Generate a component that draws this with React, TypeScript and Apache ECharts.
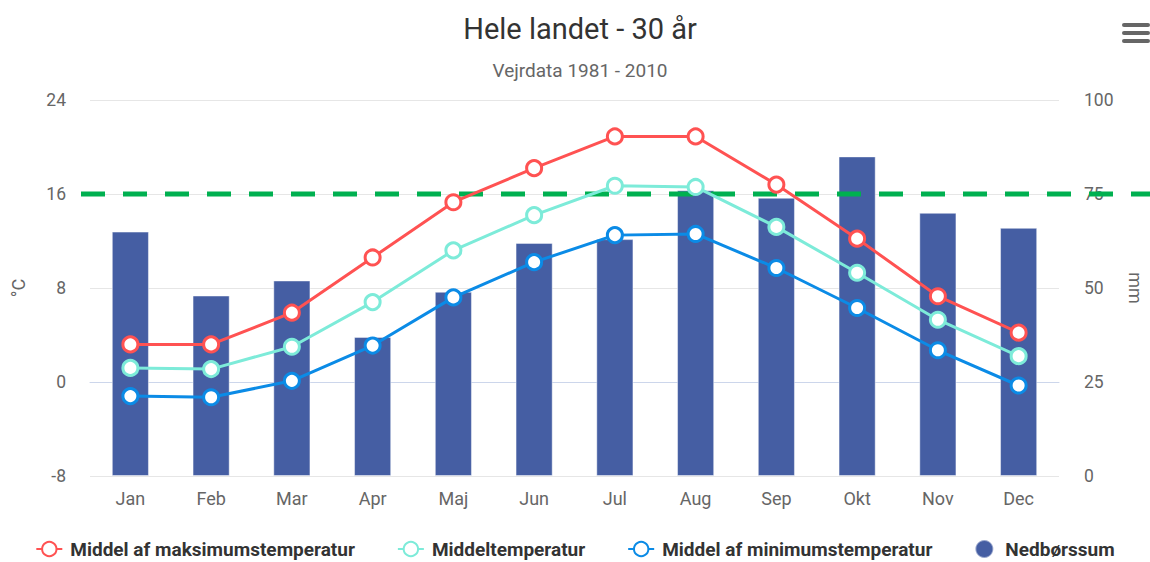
import React, { useEffect, useRef } from "react";
import * as echarts from "echarts";

const chartTitle = "Hele landet - 30 år";
const chartSubtitle = "Vejrdata 1981 - 2010";
const months = ["Jan", "Feb", "Mar", "Apr", "Maj", "Jun", "Jul", "Aug", "Sep", "Okt", "Nov", "Dec"];
const maxTemp = [3.2, 3.2, 5.9, 10.6, 15.3, 18.2, 20.9, 20.9, 16.8, 12.2, 7.3, 4.2];
const meanTemp = [1.2, 1.1, 3.0, 6.8, 11.2, 14.2, 16.7, 16.6, 13.2, 9.3, 5.3, 2.2];
const minTemp = [-1.2, -1.3, 0.1, 3.1, 7.2, 10.2, 12.5, 12.6, 9.7, 6.3, 2.7, -0.3];
const precipitation = [65, 48, 52, 37, 49, 62, 63, 76, 74, 85, 70, 66];
const seriesNames = [
  "Middel af maksimumstemperatur",
  "Middeltemperatur",
  "Middel af minimumstemperatur",
  "Nedbørssum",
];
const tempAxis = { min: -8, max: 24, step: 8, name: "°C" };
const mmAxis = { min: 0, max: 100, step: 25, name: "mm" };
const referenceTemp = 16;

const FONT = "Roboto, 'Noto Sans', sans-serif";
const colors = { max: "#ff5252", mean: "#7debd9", min: "#0b8be6", bar: "#455ea3", ref: "#00b050" };

function lineSeries(name: string, data: number[], color: string) {
  return {
    name,
    type: "line",
    yAxisIndex: 0,
    data,
    z: 4,
    symbol: "circle",
    symbolSize: 15,
    lineStyle: { color, width: 3 },
    itemStyle: { color: "#ffffff", borderColor: color, borderWidth: 3 },
    emphasis: { disabled: true },
  };
}

export default function App() {
  const ref = useRef<HTMLDivElement>(null);
  useEffect(() => {
    if (!ref.current) return;
    const chart = echarts.init(ref.current, undefined, { renderer: "svg" });
    chart.setOption({
      animation: false,
      textStyle: { fontFamily: FONT },
      title: [
        {
          text: chartTitle,
          left: 575,
          top: 9,
          textAlign: "center",
          textStyle: { fontFamily: FONT, fontSize: 29, fontWeight: "normal", color: "#333333" },
        },
        {
          text: chartSubtitle,
          left: 575,
          top: 56,
          textAlign: "center",
          textStyle: { fontFamily: FONT, fontSize: 19, fontWeight: "normal", color: "#666666" },
        },
      ],
      grid: { left: 90, right: 91, top: 100, bottom: 86, containLabel: false, outerBoundsMode: "none" },
      legend: {
        left: "center",
        top: 539,
        padding: 0,
        itemWidth: 26,
        itemHeight: 18,
        itemGap: 42,
        textStyle: {
          fontFamily: FONT,
          fontSize: 19,
          fontWeight: "bold",
          color: "#333333",
          padding: [0, 0, 0, 3],
        },
        data: [
          { name: seriesNames[0] },
          { name: seriesNames[1] },
          { name: seriesNames[2] },
          { name: seriesNames[3], icon: "circle" },
        ],
      },
      xAxis: {
        type: "category",
        data: months,
        axisTick: { show: false },
        axisLine: { lineStyle: { color: "#ccd6eb", width: 1 } },
        axisLabel: { color: "#666666", fontSize: 18, margin: 13, fontFamily: FONT },
      },
      yAxis: [
        {
          type: "value",
          min: tempAxis.min,
          max: tempAxis.max,
          interval: tempAxis.step,
          name: tempAxis.name,
          nameLocation: "middle",
          nameGap: 63,
          nameTextStyle: { color: "#666666", fontSize: 18, fontFamily: FONT },
          axisLabel: { color: "#666666", fontSize: 17.5, margin: 24, fontFamily: FONT },
          splitLine: { lineStyle: { color: "#e6e6e6", width: 1 } },
          axisLine: { show: false },
          axisTick: { show: false },
        },
        {
          type: "value",
          min: mmAxis.min,
          max: mmAxis.max,
          interval: mmAxis.step,
          name: mmAxis.name,
          nameLocation: "middle",
          nameRotate: -90,
          nameGap: 67,
          nameTextStyle: { color: "#666666", fontSize: 18, fontFamily: FONT },
          axisLabel: { color: "#666666", fontSize: 17.5, margin: 25, fontFamily: FONT },
          splitLine: { show: false },
          axisLine: { show: false },
          axisTick: { show: false },
        },
      ],
      series: [
        lineSeries(seriesNames[0], maxTemp, colors.max),
        lineSeries(seriesNames[1], meanTemp, colors.mean),
        lineSeries(seriesNames[2], minTemp, colors.min),
        {
          name: seriesNames[3],
          type: "bar",
          yAxisIndex: 1,
          data: precipitation,
          barWidth: "46%",
          z: 1,
          itemStyle: { color: colors.bar, borderColor: "rgba(255,255,255,0.45)", borderWidth: 1 },
          emphasis: { disabled: true },
        },
      ],
    });
    const yRef = chart.convertToPixel({ yAxisIndex: 0 }, referenceTemp) as number;
    chart.setOption({
      graphic: [
        {
          type: "line",
          z: 3,
          shape: { x1: 81, y1: yRef, x2: 1150, y2: yRef },
          style: { stroke: colors.ref, lineWidth: 5, lineDash: [24, 18] },
          silent: true,
        },
        { type: "rect", right: 0, top: 23, z: 5, shape: { width: 28, height: 4, r: 2 }, style: { fill: "#666666" } },
        { type: "rect", right: 0, top: 31, z: 5, shape: { width: 28, height: 4, r: 2 }, style: { fill: "#666666" } },
        { type: "rect", right: 0, top: 39, z: 5, shape: { width: 28, height: 4, r: 2 }, style: { fill: "#666666" } },
      ],
    });
    return () => chart.dispose();
  }, []);
  return (
    <div
      ref={ref}
      style={{ position: "fixed", left: 0, top: 0, width: 1150, height: 562, background: "#ffffff" }}
    />
  );
}
